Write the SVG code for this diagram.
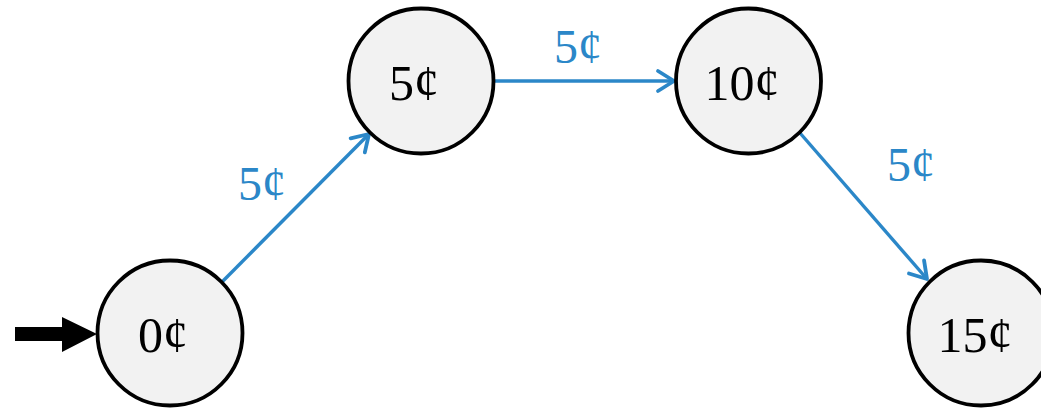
<svg xmlns="http://www.w3.org/2000/svg" width="1041" height="410" viewBox="0 0 1041 410">
<style>
.node{fill:#f2f2f2;stroke:#000;stroke-width:3.8}
.nt{font-family:"Liberation Serif","DejaVu Serif",serif;font-size:50px;fill:#000;text-anchor:middle}
.et{font-family:"Liberation Serif","DejaVu Serif",serif;font-size:48px;fill:#2b87c8;text-anchor:middle}
.edge{stroke:#2b87c8;stroke-width:3.4;fill:none}
</style>
<defs>
<marker id="arr" markerUnits="userSpaceOnUse" markerWidth="30" markerHeight="30" viewBox="-20 -15 30 30" refX="0" refY="0" orient="auto">
<path d="M-16,-10 L0,0 L-16,10" fill="none" stroke="#2b87c8" stroke-width="3.8" stroke-linecap="round" stroke-linejoin="round"/>
</marker>
</defs>
<g id="connectors">
<polygon id="start" points="15,327 62,327 62,317 97,334 62,352 62,341 15,341" fill="#000"/>
<line class="edge" x1="222" y1="282" x2="369" y2="134" marker-end="url(#arr)"/>
<text class="et" x="262" y="200">5¢</text>
<line class="edge" x1="494" y1="81" x2="674" y2="81" marker-end="url(#arr)"/>
<text class="et" x="578" y="63">5¢</text>
<line class="edge" x1="800" y1="133" x2="927" y2="279" marker-end="url(#arr)"/>
<text class="et" x="911" y="181">5¢</text>
</g>
<g id="n0"><circle class="node" cx="170" cy="333" r="72.5"/><text class="nt" x="163" y="352">0¢</text></g>
<g id="n5"><circle class="node" cx="421" cy="81" r="72.5"/><text class="nt" x="414" y="100">5¢</text></g>
<g id="n10"><circle class="node" cx="748.5" cy="81" r="72.5"/><text class="nt" x="742" y="100">10¢</text></g>
<g id="n15"><circle class="node" cx="981" cy="333" r="72.5"/><text class="nt" x="975" y="352">15¢</text></g>
</svg>
